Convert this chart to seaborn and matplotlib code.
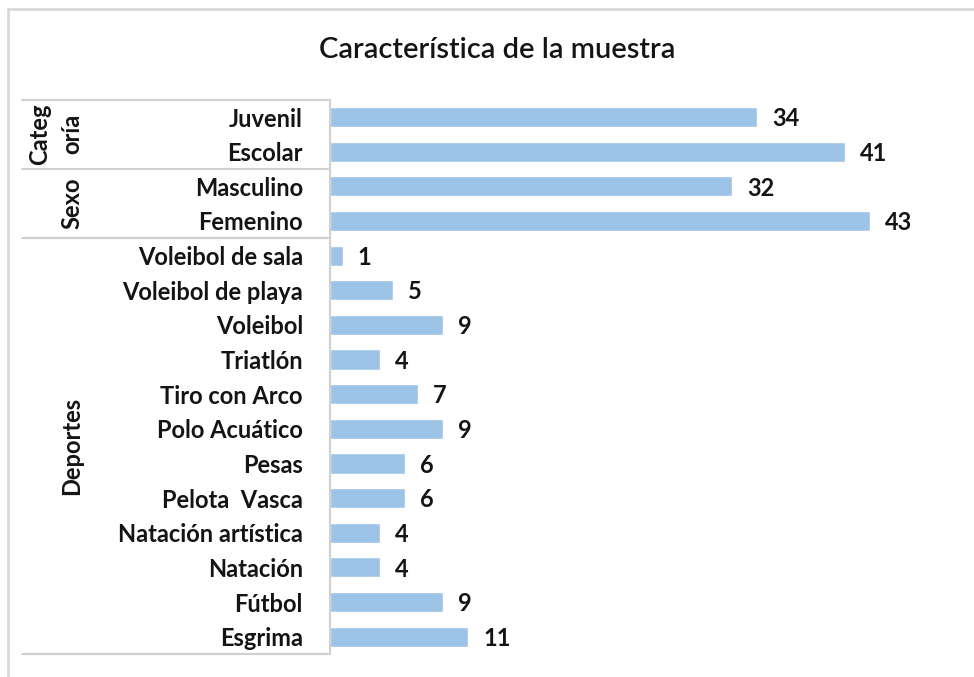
import matplotlib
matplotlib.use("Agg")
import matplotlib.pyplot as plt
import matplotlib.transforms as mtransforms
from matplotlib.lines import Line2D
import pandas as pd
import seaborn as sns

# --------------------------------------------------------------------------
categorias = ["Juvenil", "Escolar", "Masculino", "Femenino",
              "Voleibol de sala", "Voleibol de playa", "Voleibol", "Triatlón",
              "Tiro con Arco", "Polo Acuático", "Pesas", "Pelota  Vasca",
              "Natación artística", "Natación", "Fútbol", "Esgrima"]
valores = [34, 41, 32, 43, 1, 5, 9, 4, 7, 9, 6, 6, 4, 4, 9, 11]
grupos = ["Categ\noría", "Sexo", "Deportes"]
grupo_tam = [2, 2, 12]          # rows per group
titulo = "Característica de la muestra"
# --------------------------------------------------------------------------

sns.set_style("white")
plt.rcParams["font.family"] = ["Lato", "DejaVu Sans"]

df = pd.DataFrame({"cat": categorias, "n": valores})
TXT = "#141414"
FS = 17

fig = plt.figure(figsize=(9.74, 6.77), dpi=100)
ax = fig.add_axes([0.3388, 0.034, 0.6448, 0.8187])

sns.barplot(data=df, y="cat", x="n", orient="h", color="#9DC3E6",
            width=0.58, saturation=1, ax=ax)

ax.set_xlim(0, 50)
ax.set_ylim(len(categorias) - 0.5, -0.5)
ax.set_xlabel("")
ax.set_ylabel("")
ax.set_xticks([])
ax.tick_params(axis="y", length=0, pad=19.5)
for lab in ax.get_yticklabels():
    lab.set_fontweight("bold")
    lab.set_fontsize(FS)
    lab.set_color(TXT)

for s in ["top", "right", "bottom"]:
    ax.spines[s].set_visible(False)
ax.spines["left"].set_color("#d0d0d0")
ax.spines["left"].set_linewidth(1.5)

# value labels
for i, v in enumerate(valores):
    ax.text(v + 1.2, i + 0.05, str(v), va="center", ha="left",
            fontsize=FS, fontweight="bold", color=TXT)

# group separators and labels on the left
tr = mtransforms.blended_transform_factory(fig.transFigure, ax.transData)
x0, x1 = 22 / 974, 328 / 974
start = -0.5
ax.plot([x0, x1], [start, start], transform=tr, color="#d0d0d0", lw=1.5, clip_on=False)
for g, n in zip(grupos, grupo_tam):
    end = start + n
    ax.plot([x0, x1], [end, end], transform=tr, color="#d0d0d0", lw=1.5, clip_on=False)
    mid = (start + end) / 2
    if "\n" in g:
        a, b = g.split("\n")
        ax.text(40 / 974, mid, a, transform=tr, rotation=90, ha="center", va="center",
                fontsize=FS, fontweight="bold", color=TXT)
        ax.text(72 / 974, mid, b, transform=tr, rotation=90, ha="center", va="center",
                fontsize=FS, fontweight="bold", color=TXT)
    else:
        ax.text(72 / 974, mid, g, transform=tr, rotation=90, ha="center", va="center",
                fontsize=FS, fontweight="bold", color=TXT)
    start = end

# outer chart frame (top and left edges visible)
fig.add_artist(Line2D([8 / 974, 8 / 974], [0, 1 - 9 / 677], transform=fig.transFigure,
                      color="#d9d9d9", lw=2))
fig.add_artist(Line2D([8 / 974, 1], [1 - 9 / 677, 1 - 9 / 677], transform=fig.transFigure,
                      color="#d9d9d9", lw=2))

fig.text(497 / 974, 1 - 50 / 677, titulo, ha="center", va="center",
         fontsize=21, fontweight="semibold", color=TXT)

plt.savefig("out.png", dpi=100)
